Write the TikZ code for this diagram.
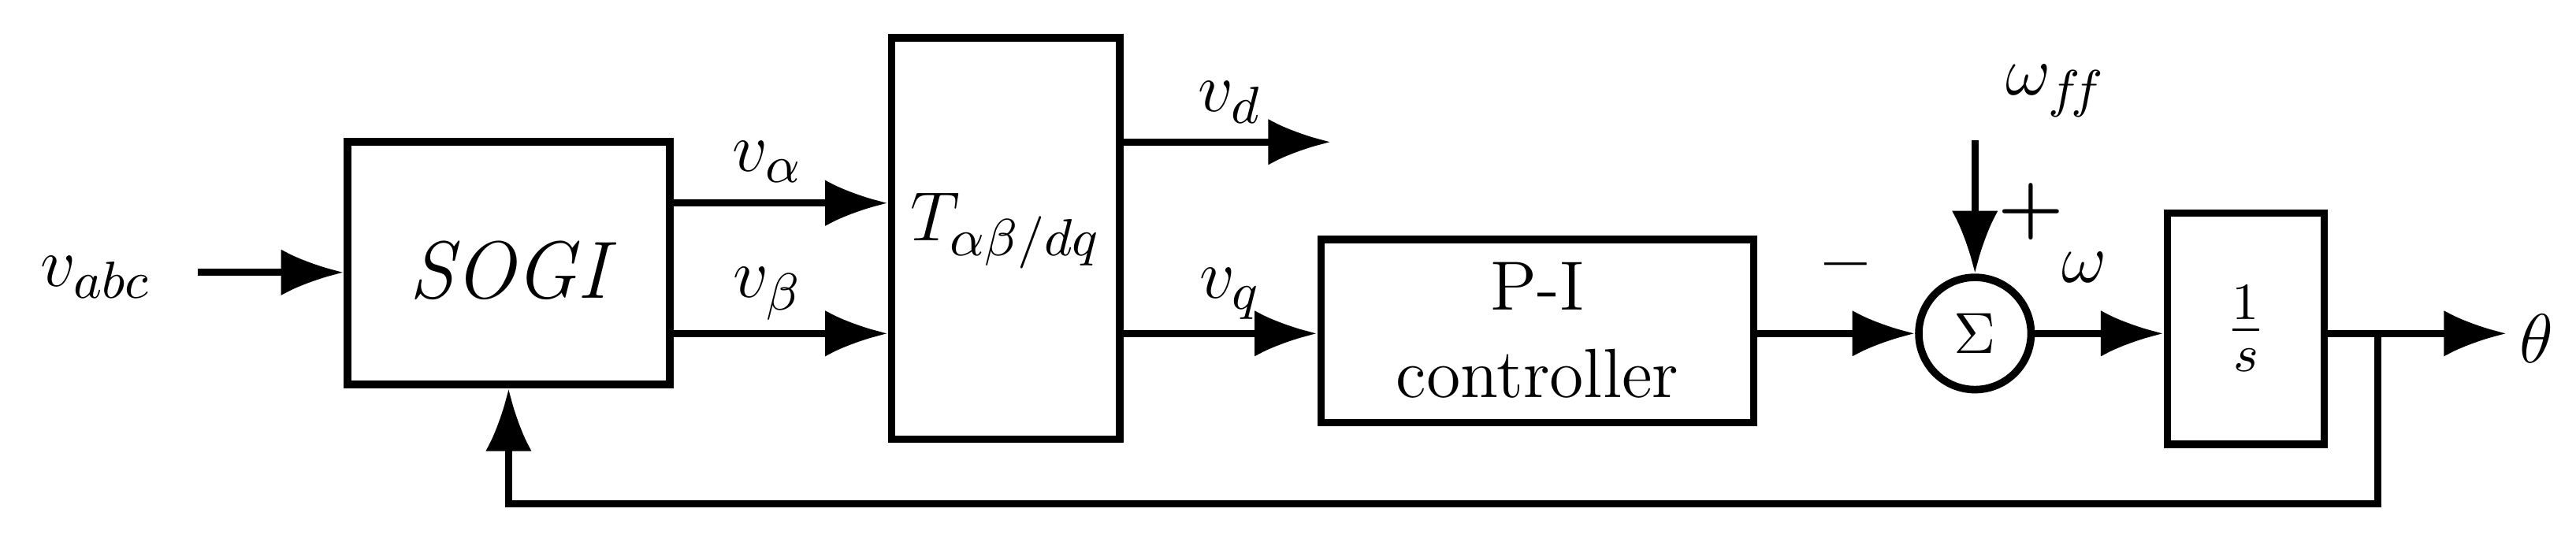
\documentclass[tikz,border=0pt]{standalone}
\usetikzlibrary{arrows.meta}
\begin{document}
\begin{tikzpicture}[x=0.1mm,y=-0.1mm,line width=1.2pt,
  blk/.style={draw,line width=1.3pt,inner sep=0pt},
  sig/.style={-{Latex[length=3.8mm,width=2.8mm]}},
  lbl/.style={font=\fontsize{13}{15}\selectfont}]
\useasboundingbox (0,0) rectangle (1560,328);
\node[blk,minimum width=19.5mm,minimum height=14.7mm] (sogi) at (308,159.5) {};
\node[lbl] at (308,164) {\fontsize{14}{16}\selectfont\itshape SOGI};
\node[blk,minimum width=13.8mm,minimum height=24.3mm] (T) at (609,144.5) {};
\node[lbl] at (609,140) {$T_{\alpha\beta/dq}$};
\node[blk,minimum width=26.2mm,minimum height=11.1mm] (pi) at (931,200.5) {};
\node[font=\fontsize{12}{14}\selectfont,align=center] at (931,200) {P-I\\[1pt] controller};
\node[draw,circle,line width=1.3pt,minimum size=6.8mm,inner sep=0pt] (sum) at (1196,202) {$\Sigma$};
\node[blk,minimum width=9.5mm,minimum height=14mm] (int) at (1360,199) {};
\node[font=\fontsize{13}{15}\selectfont] at (1360,199) {$\frac{1}{s}$};
\node[lbl] (vabc) at (58,168) {$v_{abc}$};
\coordinate (in) at (120,165);
\draw[sig] (in) -- (sogi.west|-in);
\draw[sig] (sogi.east|-0,123) -- (T.west|-0,123);
\node[lbl] at (465,98) {$v_\alpha$};
\draw[sig] (sogi.east|-0,202) -- (T.west|-0,202);
\node[lbl] at (465,178) {$v_\beta$};
\coordinate (vdout) at (806,86);
\draw[sig] (T.east|-vdout) -- (vdout);
\node[lbl] at (745,62) {$v_d$};
\draw[sig] (T.east|-0,202) -- (pi.west|-0,202);
\node[lbl] at (745,178) {$v_q$};
\draw[sig] (pi.east|-sum) -- (sum.west);
\node[lbl] at (1118,166) {\textbf{--}};
\coordinate (ff) at (1196,85);
\draw[sig] (ff) -- (sum.north);
\node[lbl] at (1245,55) {$\omega_{f\!f}$};
\node[lbl] at (1230,128) {\textbf{+}};
\node[lbl] at (1262,162) {$\omega$};
\draw[sig] (sum.east) -- (int.west|-sum);
\coordinate (br) at (1440,202);
\coordinate (out) at (1518,202);
\draw[sig] (int.east|-sum) -- (out);
\node[lbl] at (1536,205) {$\theta$};
\draw[sig] (br) -- (1440,305) -- (308,305) -- (sogi.south);
\end{tikzpicture}
\end{document}
